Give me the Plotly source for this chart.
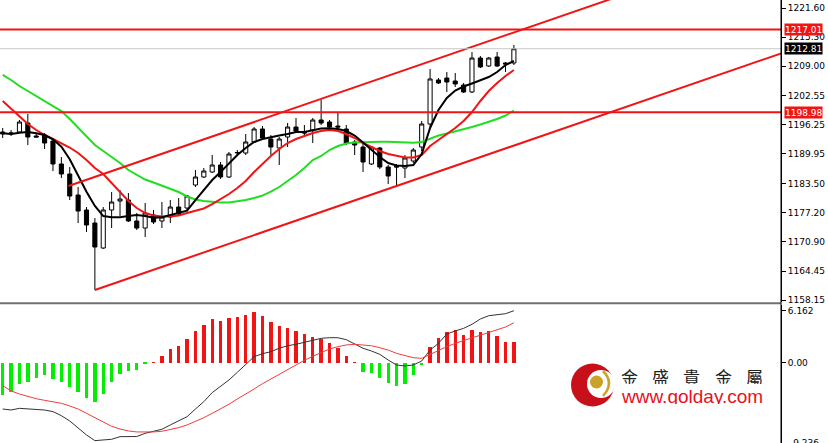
import plotly.graph_objects as go

# ---------------- data ----------------
bar_index = list(range(62))

opens = [1194.70, 1194.26, 1194.70, 1196.65, 1193.83, 1194.04, 1192.74, 1187.74, 1185.56, 1180.99,
         1177.73, 1174.90, 1169.46, 1177.73, 1179.69, 1179.90, 1175.34, 1173.81, 1176.64, 1175.34,
         1176.21, 1178.38, 1178.16, 1183.17, 1184.91, 1185.99, 1187.52, 1184.91, 1190.13, 1190.13,
         1192.52, 1195.35, 1193.17, 1191.22, 1193.61, 1195.78, 1194.70, 1195.13, 1197.31, 1196.87,
         1196.00, 1195.35, 1192.52, 1191.43, 1187.74, 1191.22, 1187.08, 1187.30, 1186.86, 1188.39,
         1191.43, 1196.44, 1206.01, 1206.44, 1205.79, 1204.92, 1203.40, 1210.79, 1209.05, 1211.01,
         1209.71, 1209.71]
highs = [1195.57, 1195.13, 1197.31, 1198.61, 1194.37, 1194.48, 1193.17, 1189.26, 1187.08, 1182.73,
         1178.38, 1175.99, 1178.38, 1181.64, 1182.08, 1181.43, 1177.08, 1179.25, 1177.73, 1179.47,
         1179.90, 1180.34, 1180.99, 1186.43, 1186.86, 1189.69, 1188.17, 1190.35, 1190.78, 1194.26,
         1195.78, 1196.00, 1194.04, 1193.61, 1196.65, 1197.74, 1196.22, 1197.74, 1201.66, 1197.31,
         1198.83, 1196.22, 1192.96, 1192.09, 1191.65, 1191.43, 1187.52, 1187.74, 1189.69, 1191.22,
         1197.09, 1208.40, 1206.44, 1207.75, 1207.53, 1205.36, 1212.10, 1211.23, 1211.01, 1212.10,
         1209.92, 1213.62]
lows = [1193.39, 1193.83, 1194.59, 1191.87, 1193.50, 1191.00, 1186.21, 1184.69, 1179.90, 1174.90,
        1172.94, 1160.33, 1169.25, 1173.81, 1176.42, 1175.12, 1173.38, 1171.86, 1174.68, 1173.81,
        1174.90, 1176.42, 1177.73, 1182.73, 1184.69, 1185.78, 1184.47, 1184.69, 1189.48, 1189.69,
        1192.30, 1192.96, 1189.69, 1187.52, 1191.43, 1194.70, 1193.83, 1192.30, 1196.22, 1195.57,
        1194.91, 1191.87, 1189.69, 1185.99, 1187.52, 1186.65, 1183.38, 1183.17, 1184.69, 1187.95,
        1190.56, 1195.78, 1205.14, 1203.40, 1204.48, 1203.18, 1203.18, 1208.62, 1208.84, 1208.84,
        1207.75, 1209.27]
closes = [1194.26, 1194.48, 1196.87, 1193.61, 1193.61, 1192.30, 1187.74, 1185.56, 1180.77, 1177.51,
          1174.47, 1169.68, 1177.73, 1179.47, 1180.12, 1175.34, 1173.81, 1177.08, 1175.12, 1176.21,
          1178.38, 1176.86, 1180.77, 1184.91, 1186.21, 1187.52, 1184.91, 1189.91, 1190.24, 1192.52,
          1195.35, 1193.39, 1191.43, 1193.17, 1195.78, 1194.91, 1194.48, 1197.31, 1196.65, 1195.78,
          1195.78, 1192.30, 1191.87, 1188.17, 1191.43, 1187.08, 1185.12, 1187.08, 1189.04, 1190.78,
          1196.44, 1206.23, 1205.36, 1205.57, 1205.14, 1203.40, 1210.79, 1208.84, 1210.79, 1209.05,
          1209.49, 1212.81]

ma_fast = [1194.41, 1194.26, 1194.54, 1194.70, 1194.41, 1194.04, 1193.11, 1191.50, 1188.76, 1185.12,
           1181.71, 1178.60, 1176.42, 1176.14, 1176.14, 1176.42, 1176.64, 1176.42, 1176.05, 1176.14,
           1176.64, 1177.14, 1177.58, 1179.90, 1182.08, 1184.26, 1185.99, 1187.95, 1189.69, 1191.22,
           1192.52, 1193.17, 1193.61, 1193.93, 1194.26, 1194.70, 1194.70, 1195.02, 1195.46, 1195.50,
           1195.35, 1194.91, 1193.93, 1192.41, 1190.78, 1189.26, 1187.95, 1187.41, 1187.30, 1187.52,
           1189.91, 1195.57, 1199.48, 1202.09, 1203.72, 1204.59, 1205.25, 1205.90, 1206.66, 1207.75,
           1209.27, 1210.14]
ma_mid = [1201.44, 1199.70, 1197.96, 1196.44, 1195.13, 1194.04, 1193.17, 1192.30, 1191.32, 1190.13,
          1188.61, 1186.86, 1185.56, 1183.60, 1181.64, 1179.69, 1178.16, 1177.08, 1176.53, 1176.31,
          1176.31, 1176.53, 1177.08, 1177.51, 1178.06, 1179.03, 1180.12, 1181.21, 1182.51, 1184.04,
          1185.99, 1187.74, 1189.48, 1191.00, 1192.30, 1193.17, 1193.83, 1194.48, 1194.91, 1195.13,
          1194.91, 1194.26, 1193.39, 1192.30, 1191.43, 1190.56, 1189.91, 1189.48, 1189.15, 1189.15,
          1189.69, 1191.65, 1192.96, 1194.26, 1195.57, 1197.09, 1199.05, 1201.44, 1203.61, 1205.36,
          1206.88, 1208.18]
ma_slow = [1207.10, 1206.01, 1204.70, 1203.61, 1202.53, 1201.44, 1200.35, 1199.26, 1197.52, 1195.57,
           1193.61, 1191.87, 1190.56, 1189.26, 1187.95, 1186.43, 1185.34, 1184.36, 1183.71, 1183.06,
           1182.41, 1181.64, 1180.67, 1180.01, 1179.69, 1179.47, 1179.36, 1179.36, 1179.58, 1179.90,
           1180.34, 1180.88, 1181.75, 1182.73, 1184.04, 1185.34, 1186.86, 1188.61, 1189.48, 1190.78,
           1191.65, 1192.19, 1192.41, 1192.52, 1192.59, 1192.59, 1192.59, 1192.52, 1192.41, 1192.37,
           1192.52, 1193.17, 1193.93, 1194.37, 1194.80, 1195.24, 1195.78, 1196.33, 1196.87, 1197.52,
           1198.29, 1199.37]

macd_hist = [-3.83, -3.44, -2.57, -2.25, -1.78, -1.46, -1.93, -2.25, -2.88, -3.44,
             -4.15, -4.62, -3.67, -2.33, -1.30, -0.98, -0.87, -0.10, 0.08, 0.83,
             1.58, 1.98, 2.76, 3.79, 4.47, 5.13, 4.94, 5.33, 5.45, 5.65,
             5.96, 5.53, 4.78, 4.35, 4.15, 3.76, 3.35, 3.08, 2.81, 2.29,
             1.69, 0.83, 0.06, -1.07, -1.19, -1.78, -2.45, -2.73, -2.49, -1.46,
             -0.24, 1.81, 2.96, 3.59, 3.91, 3.28, 3.83, 3.67, 3.76, 3.12,
             2.49, 2.49]
macd_main = [-5.49, -5.61, -5.41, -5.45, -5.53, -5.61, -5.80, -6.28, -6.91, -7.70,
             -8.57, -9.24, -9.20, -9.08, -8.77, -8.77, -8.75, -8.37, -8.09, -7.89,
             -7.38, -6.91, -6.40, -5.49, -4.62, -3.55, -2.84, -2.05, -1.14, -0.27,
             0.71, 1.07, 1.30, 1.71, 2.01, 2.18, 2.42, 2.65, 2.89, 2.96,
             2.96, 2.73, 2.25, 1.71, 1.39, 0.99, 0.32, -0.27, -0.39, -0.27,
             0.20, 1.50, 2.30, 3.40, 3.76, 4.07, 4.55, 5.18, 5.57, 5.73,
             5.81, 6.16]
macd_signal = [-2.72, -3.35, -3.71, -4.03, -4.27, -4.46, -4.62, -4.81, -5.13, -5.49,
               -6.00, -6.52, -7.06, -7.54, -7.86, -8.09, -8.21, -8.25, -8.21, -8.13,
               -7.94, -7.70, -7.38, -6.99, -6.52, -6.00, -5.49, -4.93, -4.30, -3.74,
               -3.12, -2.49, -1.93, -1.34, -0.78, -0.19, 0.28, 0.76, 1.23, 1.62,
               1.90, 2.10, 2.18, 2.13, 2.01, 1.78, 1.50, 1.11, 0.83, 0.59,
               0.52, 0.99, 1.50, 1.90, 2.30, 2.61, 2.96, 3.28, 3.60, 3.91,
               4.23, 4.74]

# channel trend lines: two anchor points each (bar index, price)
channel_upper_x = [7.85, 80.0]
channel_upper_y = [1182.95, 1228.29]
channel_lower_x = [11.0, 95.0]
channel_lower_y = [1160.33, 1213.12]

resistance_level = 1217.01
support_level = 1198.98
last_price = 1212.81

price_ticks = [1221.60, 1215.30, 1209.00, 1202.55, 1196.25, 1189.95,
               1183.50, 1177.20, 1170.90, 1164.45, 1158.15]
macd_ticks = [6.162, 0.0]
macd_tick_text = ["6.162", "0.00"]
macd_min_label = "-9.236"

# ---------------- figure ----------------
W, H = 828, 443
PW = 781  # plot width in px

RED = "#f01414"
GREEN = "#22dd22"

fig = go.Figure()

fig.add_trace(go.Candlestick(
    x=bar_index, open=opens, high=highs, low=lows, close=closes,
    increasing=dict(line=dict(color="black", width=1), fillcolor="white"),
    decreasing=dict(line=dict(color="black", width=1), fillcolor="black"),
    whiskerwidth=0, xaxis="x", yaxis="y", showlegend=False, hoverinfo="skip"))

fig.add_trace(go.Scatter(x=bar_index, y=ma_slow, mode="lines",
                         line=dict(color=GREEN, width=2), xaxis="x", yaxis="y"))
fig.add_trace(go.Scatter(x=bar_index, y=ma_mid, mode="lines",
                         line=dict(color=RED, width=2), xaxis="x", yaxis="y"))
fig.add_trace(go.Scatter(x=bar_index, y=ma_fast, mode="lines",
                         line=dict(color="black", width=2), xaxis="x", yaxis="y"))

fig.add_trace(go.Scatter(x=channel_upper_x, y=channel_upper_y, mode="lines",
                         line=dict(color=RED, width=2), xaxis="x", yaxis="y"))
fig.add_trace(go.Scatter(x=channel_lower_x, y=channel_lower_y, mode="lines",
                         line=dict(color=RED, width=2), xaxis="x", yaxis="y"))

# MACD panel
hist_colors = [RED if v >= 0 else "#00ee00" for v in macd_hist]
fig.add_trace(go.Bar(x=bar_index, y=macd_hist, marker=dict(color=hist_colors, line=dict(width=0)),
                     width=0.4, xaxis="x2", yaxis="y2"))
fig.add_trace(go.Scatter(x=bar_index, y=macd_main, mode="lines",
                         line=dict(color="#333333", width=1), xaxis="x2", yaxis="y2"))
fig.add_trace(go.Scatter(x=bar_index, y=macd_signal, mode="lines",
                         line=dict(color="#f03c3c", width=1), xaxis="x2", yaxis="y2"))

x_lo = -2.7 / 8.38
x_hi = (PW - 2.7) / 8.38
main_bottom_px = 302
macd_top_px = 305

tickfont = dict(family="DejaVu Sans", size=9, color="black")

fig.update_layout(
    width=W, height=H,
    margin=dict(l=0, r=W - PW, t=0, b=0, pad=0, autoexpand=False),
    paper_bgcolor="white", plot_bgcolor="white",
    showlegend=False, bargap=0,
    xaxis=dict(domain=[0, 1], range=[x_lo, x_hi], anchor="y", visible=False,
               rangeslider=dict(visible=False), automargin=False),
    xaxis2=dict(domain=[0, 1], range=[x_lo, x_hi], anchor="y2", matches="x", visible=False,
                automargin=False),
    yaxis=dict(domain=[1 - main_bottom_px / H, 1], range=[1157.72, 1223.41], side="right",
               anchor="x", showgrid=False, zeroline=False, showline=True, linecolor="black",
               linewidth=1, ticks="outside", ticklen=4, tickcolor="black", automargin=False,
               tickvals=price_ticks, ticktext=[f"{v:.2f}" for v in price_ticks], tickfont=tickfont),
    yaxis2=dict(domain=[0, 1 - macd_top_px / H], range=[-9.52, 6.84], side="right",
                anchor="x2", showgrid=False, zeroline=False, showline=True, linecolor="black",
                linewidth=1, ticks="outside", ticklen=4, tickcolor="black", automargin=False,
                tickvals=macd_ticks, ticktext=macd_tick_text, tickfont=tickfont),
)

shapes = []
# horizontal levels
for lvl, col, w in [(resistance_level, RED, 2), (support_level, RED, 2), (last_price, "#c8c8c8", 1)]:
    shapes.append(dict(type="line", xref="paper", yref="y", x0=0, x1=1, y0=lvl, y1=lvl,
                       line=dict(color=col, width=w)))
# panel separator
sep_y = 1 - 303.3 / H
shapes.append(dict(type="line", xref="paper", yref="paper", x0=0, x1=1, y0=sep_y, y1=sep_y,
                   line=dict(color="#707070", width=2)))
# vertical axis line full height
shapes.append(dict(type="line", xref="paper", yref="paper", x0=1, x1=1, y0=0, y1=1,
                   line=dict(color="black", width=1)))


def px(x):
    return x / PW


def py(y):
    return 1 - y / H


# logo
shapes.append(dict(type="circle", xref="paper", yref="paper", x0=px(571), x1=px(614),
                   y0=py(406.5), y1=py(363.5), fillcolor="#c8101a", line=dict(width=0)))
shapes.append(dict(type="circle", xref="paper", yref="paper", x0=px(587), x1=px(615),
                   y0=py(398), y1=py(370), fillcolor="white", line=dict(width=0)))
shapes.append(dict(type="path", xref="paper", yref="paper",
                   path=f"M {px(603)},{py(371)} Q {px(615)},{py(383)} {px(603)},{py(396)}",
                   line=dict(color="#c9a227", width=2.5)))
shapes.append(dict(type="circle", xref="paper", yref="paper", x0=px(590), x1=px(603),
                   y0=py(388.5), y1=py(375.5), fillcolor="#c9a227", line=dict(width=0)))
fig.update_layout(shapes=shapes)

annotations = []
for lvl, bg in [(resistance_level, "#f01414"), (last_price, "black"), (support_level, "#f01414")]:
    annotations.append(dict(xref="paper", yref="y", x=1 + 3 / PW, y=lvl, xanchor="left",
                            yanchor="middle", text=f"{lvl:.2f}", showarrow=False, bgcolor=bg,
                            borderpad=0, height=11,
                            font=dict(family="DejaVu Sans", size=9, color="white")))
annotations.append(dict(xref="paper", yref="paper", x=1 + 7 / PW, y=0, xanchor="left",
                        yanchor="middle", text=macd_min_label, showarrow=False,
                        font=tickfont))
logo_chars = ["金", "盛", "貴", "金", "屬"]
for k, ch in enumerate(logo_chars):
    annotations.append(dict(xref="paper", yref="paper", x=px(629 + 31.4 * k), y=py(376),
                            xanchor="center", yanchor="middle", text=ch, showarrow=False,
                            height=15, borderpad=0,
                            font=dict(family="Noto Sans CJK TC", size=17, color="#222222")))
annotations.append(dict(xref="paper", yref="paper", x=px(691.5), y=py(395.5), xanchor="center",
                        yanchor="middle", text="www.golday.com", showarrow=False,
                        height=16, borderpad=0,
                        font=dict(family="Liberation Sans", size=19, color="#e8101c")))
fig.update_layout(annotations=annotations)

fig.write_html("out.html", config={"displayModeBar": False},
               post_script="document.body.style.margin='0px';")
